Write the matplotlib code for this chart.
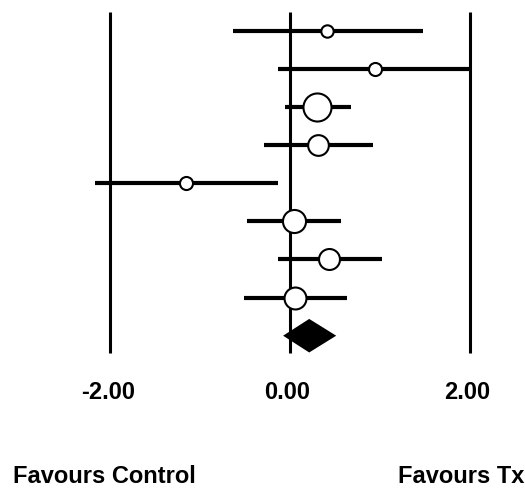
import matplotlib.pyplot as plt
import matplotlib as mpl

# study effect sizes with 95% CI (top to bottom)
estimates = [0.41, 0.94, 0.30, 0.31, -1.16, 0.04, 0.43, 0.05]
lower = [-0.64, -0.14, -0.06, -0.29, -2.17, -0.48, -0.14, -0.52]
upper = [1.48, 2.00, 0.67, 0.92, -0.14, 0.56, 1.02, 0.63]
weights = [8.9, 9.4, 20.2, 14.9, 9.4, 16.6, 15.1, 15.8]  # marker size

# pooled estimate
pooled = 0.21
pooled_lo = -0.08
pooled_hi = 0.51

ref_lines = [-2.0, 0.0, 2.0]
tick_labels = ["-2.00", "0.00", "2.00"]

mpl.rcParams["font.family"] = ["Liberation Sans", "DejaVu Sans"]

fig = plt.figure(figsize=(5.25, 4.9), dpi=100)
ax = fig.add_axes([0, 0, 1, 1])
ax.set_xlim(-3.226, 2.608)
ax.set_ylim(13.047, 0.195)
ax.axis("off")

for xv in ref_lines:
    ax.plot([xv, xv], [0.51, 9.45], color="black", lw=2.2, solid_capstyle="butt", zorder=1)

rows = list(range(1, len(estimates) + 1))
for r, est, lo, hi, w in zip(rows, estimates, lower, upper, weights):
    ax.plot([lo, hi], [r, r], color="black", lw=3.0, solid_capstyle="butt", zorder=2)
    ax.plot(est, r, marker="o", ms=w, mfc="white", mec="black", mew=1.5, zorder=3)

prow = len(estimates) + 1
h = 0.44
ax.fill([pooled_lo, pooled, pooled_hi, pooled], [prow, prow - h, prow, prow + h],
        color="black", lw=0, zorder=3)

for xv, lab in zip(ref_lines, tick_labels):
    ax.text(xv - 0.03, 10.49, lab, ha="center", va="center", fontsize=17, fontweight="bold")

ax.text(-3.08, 12.68, "Favours Control", ha="left", va="center", fontsize=17, fontweight="bold")
ax.text(2.597, 12.68, "Favours Tx", ha="right", va="center", fontsize=17, fontweight="bold")

plt.savefig("out.png", dpi=100)
plt.close()
